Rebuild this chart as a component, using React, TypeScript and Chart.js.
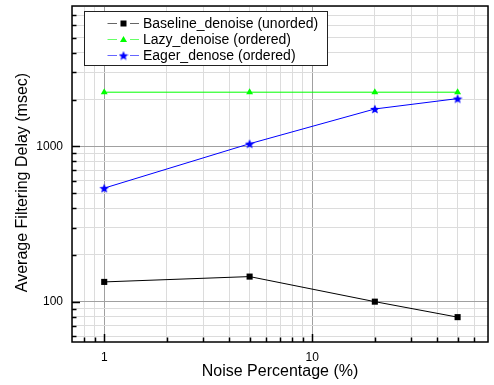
import React, { useEffect, useRef } from "react";
import { Chart, registerables } from "chart.js";

Chart.register(...registerables);

const noisePct = [1, 5, 20, 50];
const baselineDelay = [134, 145, 100, 79.5];
const lazyDelay = [2230, 2230, 2230, 2230];
const eagerDelay = [538, 1039, 1739, 2028];

const seriesNames = [
  "Baseline_denoise (unorded)",
  "Lazy_denoise (ordered)",
  "Eager_denose (ordered)",
];
const seriesColors = ["#000000", "#00ff00", "#0000ff"];

const xMin = 0.7;
const xMax = 70;
const yMin = 55;
const yMax = 8000;
const xLabelValues = [1, 10];
const yLabelValues = [100, 1000];
const yTitle = "Average Filtering Delay (msec)";
const xTitle = "Noise Percentage (%)";

const FONT = "'Liberation Sans', Arial, Helvetica, sans-serif";

function makeStar(color: string, size: number) {
  const c = document.createElement("canvas");
  c.width = size;
  c.height = size;
  const g = c.getContext("2d")!;
  const cx = size / 2;
  const cy = size / 2 + 0.5;
  const R = size / 2;
  const r = R * 0.45;
  g.beginPath();
  for (let i = 0; i < 10; i++) {
    const ang = -Math.PI / 2 + (i * Math.PI) / 5;
    const rad = i % 2 === 0 ? R : r;
    const px = cx + rad * Math.cos(ang);
    const py = cy + rad * Math.sin(ang);
    if (i === 0) g.moveTo(px, py);
    else g.lineTo(px, py);
  }
  g.closePath();
  g.fillStyle = color;
  g.fill();
  return c;
}

function decadeTicks(min: number, max: number) {
  const out: number[] = [];
  for (let e = Math.floor(Math.log10(min)); e <= Math.ceil(Math.log10(max)); e++) {
    for (let m = 1; m <= 9; m++) {
      const v = parseFloat((m * Math.pow(10, e)).toPrecision(6));
      if (v >= min - 1e-9 && v <= max + 1e-9) out.push(v);
    }
  }
  return out;
}

const isMajor = (v: number) => Math.abs(Math.log10(v) - Math.round(Math.log10(v))) < 1e-9;

export default function App() {
  const ref = useRef<HTMLCanvasElement>(null);

  useEffect(() => {
    const canvas = ref.current!;
    const star = makeStar(seriesColors[2], 10);

    const framePlugin = {
      id: "frame",
      afterDraw(chart: any) {
        const { ctx, chartArea } = chart;
        const xs = chart.scales.x;
        const ys = chart.scales.y;
        ctx.save();
        ctx.strokeStyle = "#000";
        ctx.lineWidth = 1.5;
        for (const v of decadeTicks(yMin, yMax)) {
          const y = Math.round(ys.getPixelForValue(v)) + 0.5;
          if (y <= chartArea.top + 2 || y >= chartArea.bottom - 2) continue;
          const len = isMajor(v) ? 8 : 4.5;
          ctx.beginPath();
          ctx.moveTo(chartArea.left, y);
          ctx.lineTo(chartArea.left + len, y);
          ctx.stroke();
        }
        for (const v of decadeTicks(xMin, xMax)) {
          const x = Math.round(xs.getPixelForValue(v)) + 0.5;
          if (x <= chartArea.left + 2 || x >= chartArea.right - 2) continue;
          const len = isMajor(v) ? 8 : 4.5;
          ctx.beginPath();
          ctx.moveTo(x, chartArea.bottom);
          ctx.lineTo(x, chartArea.bottom - len);
          ctx.stroke();
        }
        ctx.lineWidth = 1.5;
        ctx.strokeRect(chartArea.left, chartArea.top, chartArea.right - chartArea.left, chartArea.bottom - chartArea.top);

        // y-axis title
        ctx.save();
        ctx.translate(23, 182.5);
        ctx.rotate(-Math.PI / 2);
        ctx.font = `16px ${FONT}`;
        ctx.fillStyle = "#000";
        ctx.textAlign = "center";
        ctx.textBaseline = "middle";
        ctx.fillText(yTitle, 0, 0);
        ctx.restore();

        // legend
        const lx = 84.5, ly = 11.5, lw = 243, lh = 54;
        ctx.fillStyle = "#fff";
        ctx.fillRect(lx, ly, lw, lh);
        ctx.lineWidth = 1;
        ctx.strokeStyle = "#222";
        ctx.strokeRect(lx, ly, lw, lh);
        ctx.font = `14px ${FONT}`;
        ctx.textBaseline = "middle";
        ctx.textAlign = "left";
        const rows = [23.5, 39.5, 55.5];
        rows.forEach((ry, i) => {
          const col = seriesColors[i];
          ctx.globalAlpha = 0.6;
          ctx.strokeStyle = col;
          ctx.lineWidth = 1;
          ctx.beginPath();
          ctx.moveTo(107.5, ry);
          ctx.lineTo(117, ry);
          ctx.moveTo(130, ry);
          ctx.lineTo(139, ry);
          ctx.stroke();
          ctx.globalAlpha = 1;
          ctx.fillStyle = col;
          const mx = 123.5;
          if (i === 0) {
            ctx.fillRect(mx - 3, ry - 3, 6, 6);
          } else if (i === 1) {
            ctx.beginPath();
            ctx.moveTo(mx, ry - 3.5);
            ctx.lineTo(mx + 3.5, ry + 2.5);
            ctx.lineTo(mx - 3.5, ry + 2.5);
            ctx.closePath();
            ctx.fill();
          } else {
            ctx.drawImage(star, mx - 5, ry - 5);
          }
          ctx.fillStyle = "#000";
          ctx.fillText(seriesNames[i], 143, ry + 0.5);
        });
        ctx.restore();
      },
    };

    const toPts = (ys: number[]) => noisePct.map((x, i) => ({ x, y: ys[i] }));

    const chart = new Chart(canvas, {
      type: "line",
      data: {
        datasets: [
          {
            label: seriesNames[0],
            data: toPts(baselineDelay),
            borderColor: seriesColors[0],
            backgroundColor: seriesColors[0],
            borderWidth: 1,
            pointStyle: "rect",
            pointRadius: 4.3,
            pointBorderWidth: 0,
          },
          {
            label: seriesNames[1],
            data: toPts(lazyDelay),
            borderColor: seriesColors[1],
            backgroundColor: seriesColors[1],
            borderWidth: 1,
            pointStyle: "triangle",
            pointRadius: 4,
            pointBorderWidth: 0,
          },
          {
            label: seriesNames[2],
            data: toPts(eagerDelay),
            borderColor: seriesColors[2],
            backgroundColor: seriesColors[2],
            borderWidth: 1,
            pointStyle: star as any,
            pointRadius: 5,
          },
        ],
      },
      options: {
        animation: false,
        responsive: false,
        events: [],
        layout: { padding: { top: 5, right: 5, left: 0, bottom: 0 } },
        plugins: { legend: { display: false }, tooltip: { enabled: false } },
        scales: {
          x: {
            type: "logarithmic",
            min: xMin,
            max: xMax,
            afterBuildTicks: (s: any) => {
              s.ticks = decadeTicks(xMin, xMax).map((v) => ({ value: v, major: isMajor(v) }));
            },
            afterFit: (s: any) => {
              s.height = 43;
              s.paddingLeft = 0;
              s.paddingRight = 0;
            },
            grid: {
              drawTicks: false,
              color: (c: any) => (isMajor(c.tick.value) ? "#a0a0a0" : "#dcdcdc"),
              lineWidth: 1,
            },
            border: { display: false },
            ticks: {
              autoSkip: false,
              maxRotation: 0,
              padding: 8,
              color: "#000",
              font: { family: FONT, size: 12 },
              callback: (v: any) => (xLabelValues.includes(Number(v)) ? String(v) : ""),
            },
            title: {
              display: true,
              text: xTitle,
              color: "#000",
              font: { family: FONT, size: 16 },
              padding: { top: 0, bottom: 4 },
            },
          },
          y: {
            type: "logarithmic",
            min: yMin,
            max: yMax,
            afterBuildTicks: (s: any) => {
              s.ticks = decadeTicks(yMin, yMax).map((v) => ({ value: v, major: isMajor(v) }));
            },
            afterFit: (s: any) => {
              s.width = 72;
              s.paddingTop = 0;
              s.paddingBottom = 0;
            },
            grid: {
              drawTicks: false,
              color: (c: any) => (isMajor(c.tick.value) ? "#a0a0a0" : "#dcdcdc"),
              lineWidth: 1,
            },
            border: { display: false },
            ticks: {
              autoSkip: false,
              padding: 9,
              color: "#000",
              font: { family: FONT, size: 12 },
              callback: (v: any) => (yLabelValues.includes(Number(v)) ? String(v) : ""),
            },
            title: { display: false },
          },
        },
      },
      plugins: [framePlugin],
    });
    return () => chart.destroy();
  }, []);

  return (
    <div style={{ position: "absolute", left: 0, top: 0, width: 494, height: 385, background: "#fff" }}>
      <canvas ref={ref} width={494} height={385} style={{ display: "block" }} />
    </div>
  );
}
